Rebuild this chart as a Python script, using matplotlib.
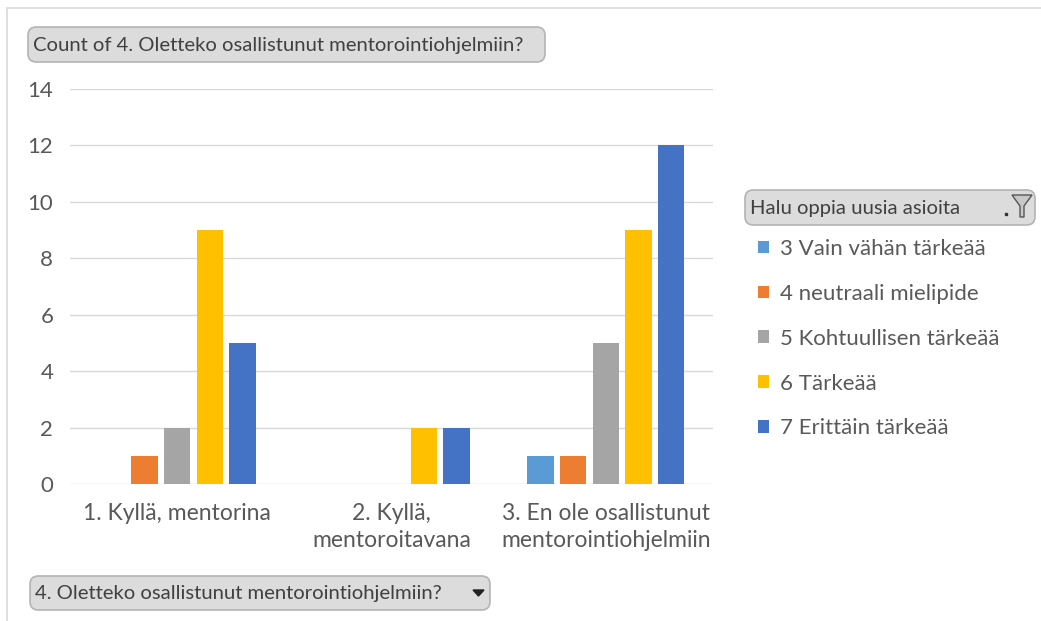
import numpy as np
import matplotlib.pyplot as plt
from matplotlib.patches import FancyBboxPatch, Rectangle, Polygon

plt.rcParams['font.family'] = ['Lato', 'DejaVu Sans']

# Data
categories = ['1. Kyllä, mentorina', '2. Kyllä,\nmentoroitavana',
              '3. En ole osallistunut\nmentorointiohjelmiin']
series_names = ['3 Vain vähän tärkeää', '4 neutraali mielipide',
                '5 Kohtuullisen tärkeää', '6 Tärkeää', '7 Erittäin tärkeää']
values = [
    [0, 0, 1],    # 3 Vain vähän tärkeää
    [1, 0, 1],    # 4 neutraali mielipide
    [2, 0, 5],    # 5 Kohtuullisen tärkeää
    [9, 2, 9],    # 6 Tärkeää
    [5, 2, 12],   # 7 Erittäin tärkeää
]
colors = ['#5B9BD5', '#ED7D31', '#A5A5A5', '#FFC000', '#4472C4']
yticks = [0, 2, 4, 6, 8, 10, 12, 14]
value_button = 'Count of 4. Oletteko osallistunut mentorointiohjelmiin?'
legend_button = 'Halu oppia uusia asioita'
axis_button = '4. Oletteko osallistunut mentorointiohjelmiin?'

W, H = 1041, 621
fig = plt.figure(figsize=(W / 100, H / 100), dpi=100)
txt = '#595959'


def fx(px):
    return px / W


def fy(py):
    return 1 - py / H


# chart frame
fig.patches.append(Rectangle((fx(7), fy(700)), fx(1100), 692 / H, transform=fig.transFigure,
                             fill=False, edgecolor='#D9D9D9', lw=1.2))

ax = fig.add_axes([fx(70), fy(484), fx(713 - 70), (484 - 89) / H])
x = np.arange(len(categories))
pitch = 0.152
width = 0.123
for i, (name, vals) in enumerate(zip(series_names, values)):
    ax.bar(x + (i - 2) * pitch, vals, width, color=colors[i], label=name, zorder=3)

ax.set_xlim(-0.5, 2.5)
ax.set_ylim(0, 14)
ax.set_yticks(yticks)
ax.set_xticks(x)
ax.set_xticklabels(categories, linespacing=1.35)
ax.tick_params(axis='both', length=0, labelcolor=txt)
ax.tick_params(axis='y', pad=12, labelsize=16)
ax.tick_params(axis='x', pad=14, labelsize=16.5)
ax.grid(axis='y', color='#D9D9D9', lw=1, zorder=0)
for s in ax.spines.values():
    s.set_visible(False)

# legend
leg = ax.legend(loc='upper left', bbox_to_anchor=(fx(749), fy(230)),
                bbox_transform=fig.transFigure, frameon=False, fontsize=16,
                handlelength=0.5, handleheight=0.5, handletextpad=0.5,
                labelspacing=1.12, borderaxespad=0)
for t in leg.get_texts():
    t.set_color(txt)


def button(x0, y0, x1, y1, label, fs=14.6):
    fig.patches.append(FancyBboxPatch((fx(x0), fy(y1)), fx(x1 - x0), (y1 - y0) / H,
                                      boxstyle='round,pad=0,rounding_size=0.008',
                                      transform=fig.transFigure, facecolor='#DCDCDC',
                                      edgecolor='#B4B4B4', lw=1.2, mutation_aspect=W / H))
    fig.text(fx(x0 + 5), fy((y0 + y1) / 2 + 1), label, fontsize=fs, color='#404040',
             va='center', ha='left')


button(28, 27, 545, 62, value_button)
button(745, 190, 1035, 225, legend_button)
button(30, 576, 490, 610, axis_button)

# filter icon in legend button
fig.patches.append(Polygon([(fx(1012), fy(195)), (fx(1032), fy(195)), (fx(1024), fy(206)),
                            (fx(1024), fy(217)), (fx(1020), fy(217)), (fx(1020), fy(206))],
                           closed=True, transform=fig.transFigure, facecolor='#C8C8C8',
                           edgecolor='#555555', lw=1))
fig.patches.append(Rectangle((fx(1005), fy(215)), fx(2), 2 / H, transform=fig.transFigure,
                             color='#333333'))
# dropdown arrow in axis button
fig.patches.append(Polygon([(fx(473), fy(590)), (fx(484), fy(590)), (fx(478.5), fy(596))],
                           closed=True, transform=fig.transFigure, color='#222222'))

fig.savefig('out.png', dpi=100)
